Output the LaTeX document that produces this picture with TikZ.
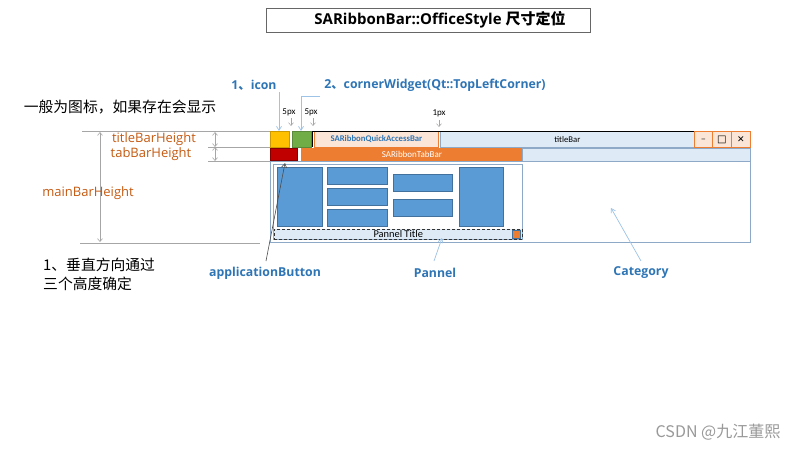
\documentclass[tikz,border=0pt]{standalone}
\usepackage{fontspec}
\setmainfont{Open Sans}
\newfontfamily\cjk{Noto Sans CJK SC}
\newfontfamily\calfont{Carlito}
\newfontfamily\dejavu{DejaVu Sans}
\usetikzlibrary{arrows.meta}
\definecolor{lblue}{HTML}{2E75B6}
\definecolor{lorange}{HTML}{C55A11}
\definecolor{cyellow}{HTML}{FFC000}
\definecolor{cgreen}{HTML}{70AD47}
\definecolor{cred}{HTML}{C00000}
\definecolor{corange}{HTML}{ED7D31}
\definecolor{cpeach}{HTML}{FBE5D6}
\definecolor{cpale}{HTML}{DEEBF7}
\definecolor{cblue}{HTML}{5B9BD5}
\definecolor{cblueb}{HTML}{41719C}
\definecolor{frame}{HTML}{8EA9C8}
\definecolor{dimgray}{HTML}{A6A6A6}
\definecolor{arrowblue}{HTML}{9DC3E6}
\begin{document}
\begin{tikzpicture}[x=1pt,y=-1pt,
  box/.style={draw, inner sep=0pt, anchor=north west, line width=0.8pt},
  wbox/.style={box, fill=cblue, draw=cblueb},
  bluelbl/.style={font=\bfseries\fontsize{12.3}{14}\selectfont, text=lblue, inner sep=1pt},
  orlbl/.style={font=\fontsize{13}{15}\selectfont, text=lorange, inner sep=1pt},
  cjktext/.style={font=\cjk\fontsize{14.8}{17}\selectfont, inner sep=1pt},
  small/.style={font=\calfont\fontsize{9}{10}\selectfont, inner sep=0pt},
  barb/.style={-{Straight Barb[length=4pt,width=5pt]}},
  dimline/.style={draw=dimgray, line width=0.6pt},
  dimarrow/.style={draw=dimgray, line width=0.6pt, {Straight Barb[length=3pt,width=5pt]}-{Straight Barb[length=3pt,width=5pt]}},
  pointer/.style={draw=arrowblue, line width=0.7pt, barb}
]
\useasboundingbox (0,0) rectangle (800,450);
\fill[white] (0,0) rectangle (800,450);

% title
\node[draw=gray!80!black, line width=1.2pt, minimum width=324pt, minimum height=24pt, anchor=north west, inner sep=0pt] (titlebox) at (266,8) {};
\node[font=\bfseries\fontsize{15}{17}\selectfont, inner sep=0pt] (titletext) at (440,20) {SARibbonBar::OfficeStyle {\cjk\bfseries 尺寸定位}};

% top labels
\node[bluelbl] (iconlbl) at (254,85) {1{\cjk 、}icon};
\node[bluelbl] (cornerlbl) at (435,85) {2{\cjk 、}cornerWidget(Qt::TopLeftCorner)};
\node[cjktext] (note1) at (120,107) {一般为图标，如果存在会显示};

\node[small] (px5a) at (289,112) {5px};
\node[small] (px5b) at (311,112) {5px};
\node[small] (px1) at (439,113) {1px};
\coordinate (px5aend) at (291,126);
\coordinate (px5bend) at (313,126);
\coordinate (px1end) at (439,127);
\draw[dimgray, line width=0.5pt, -{Straight Barb[length=3pt,width=5pt]}] (291,118) -- (px5aend);
\draw[dimgray, line width=0.5pt, -{Straight Barb[length=3pt,width=5pt]}] (313,118) -- (px5bend);
\draw[dimgray, line width=0.5pt, -{Straight Barb[length=3pt,width=5pt]}] (439,120) -- (px1end);

% ribbon title row
\node[box, fill=cyellow, draw=cyellow!80!black, minimum width=19pt, minimum height=16pt] (iconbox) at (270,131) {};
\node[box, fill=cgreen, draw=cgreen!80!black, minimum width=19pt, minimum height=16pt] (cornerbox) at (292,131) {};
\node[box, fill=cpeach, draw=corange, minimum width=124pt, minimum height=16pt, font=\calfont\bfseries\fontsize{8.7}{9}\selectfont, text=lblue] (qab) at (314,131) {SARibbonQuickAccessBar};
\node[box, fill=cpale, draw=frame, minimum width=254pt, minimum height=16pt, font=\calfont\fontsize{8.7}{9}\selectfont] (titlebar) at (440,131) {titleBar};
\draw[black, line width=0.8pt] (312,131) -- (694,131);
\draw[black, line width=0.8pt] (312,131) -- (312,147);
\node[box, fill=cpeach, draw=corange, minimum width=18pt, minimum height=16pt, font=\fontsize{8}{8}\selectfont] (minbtn) at (694,131) {\_};
\node[box, fill=cpeach, draw=corange, minimum width=19pt, minimum height=16pt, font=\dejavu\fontsize{10}{10}\selectfont] (maxbtn) at (712,131) {□};
\node[box, fill=cpeach, draw=corange, minimum width=19pt, minimum height=16pt, font=\dejavu\fontsize{9}{9}\selectfont] (closebtn) at (731,131) {✕};

% tab row
\node[box, fill=cred, draw=cred!70!black, minimum width=27pt, minimum height=12pt] (appbtn) at (270,148) {};
\node[box, fill=corange, draw=corange, minimum width=221pt, minimum height=13pt, font=\calfont\fontsize{9}{9}\selectfont, text=white] (tabbar) at (301,148) {SARibbonTabBar};
\node[box, fill=cpale, draw=frame, minimum width=228pt, minimum height=13pt] (tabrest) at (522,148) {};

% main area
\node[box, draw=frame, line width=1.2pt, minimum width=480pt, minimum height=81pt] (category) at (270,161) {};
\node[box, draw=frame, line width=1.2pt, minimum width=249pt, minimum height=75pt] (pannel) at (273,164) {};
\node[box, fill=cpale, draw=black!80, densely dashed, line width=0.5pt, minimum width=248pt, minimum height=10pt, font=\calfont\fontsize{10.4}{11}\selectfont] (ptitle) at (274,229) {Pannel Title};
\node[box, fill=corange, draw=cblueb, minimum width=8pt, minimum height=8pt] (pbtn) at (512,230) {};

\node[wbox, minimum width=45pt, minimum height=59pt] (w1) at (277,167) {};
\node[wbox, minimum width=60pt, minimum height=17pt] (w2) at (327,167) {};
\node[wbox, minimum width=60pt, minimum height=17pt] (w3) at (327,188) {};
\node[wbox, minimum width=60pt, minimum height=17pt] (w4) at (327,209) {};
\node[wbox, minimum width=59pt, minimum height=17pt] (w5) at (393,174) {};
\node[wbox, minimum width=59pt, minimum height=17pt] (w6) at (393,199) {};
\node[wbox, minimum width=44pt, minimum height=59pt] (w7) at (459,167) {};

% left dimension lines
\draw[dimline] (82,131) -- (iconbox.north west);
\draw[dimline] (208,147) -- (270,147);
\draw[dimline] (208,161) -- (270,161);
\draw[dimline] (80,243) -- (260,243);
\coordinate (dtop) at (100,132);
\coordinate (dbot) at (100,242);
\draw[dimarrow] (dtop) -- (dbot);
\coordinate (d1a) at (215,132);
\coordinate (d1b) at (215,147);
\coordinate (d2b) at (215,161);
\draw[dimarrow] (d1a) -- (d1b);
\draw[dimarrow] (d1b) -- (d2b);

\node[orlbl] (tbh) at (154,139) {titleBarHeight};
\node[orlbl] (tabh) at (151,154) {tabBarHeight};
\node[orlbl] (mbh) at (88,193) {mainBarHeight};

\node[cjktext, anchor=west] (note2) at (42,265) {1、垂直方向通过};
\node[cjktext, anchor=west] (note3) at (42,284) {三个高度确定};

% bottom labels
\node[bluelbl] (applbl) at (265,273) {applicationButton};
\node[bluelbl] (panlbl) at (435,273) {Pannel};
\node[bluelbl] (catlbl) at (641,273) {Category};

% pointers
\coordinate (iconstart) at (279,92);
\coordinate (cornerstart) at (320,96);
\coordinate (cornerbend) at (301,96);
\draw[pointer] (iconstart) -- (iconbox.north -| iconstart);
\draw[pointer] (cornerstart) -- (cornerbend) -- (cornerbox.north -| cornerbend);
\coordinate (appstart) at (266,261);
\coordinate (append) at (285,163);
\draw[draw=black!70, line width=0.6pt, barb] (appstart) -- (append);
\coordinate (panstart) at (434,261);
\coordinate (panend) at (442,238);
\draw[pointer] (panstart) -- (panend);
\coordinate (catstart) at (641,261);
\coordinate (catend) at (611,208);
\draw[pointer] (catstart) -- (catend);

% watermark
\node[font=\cjk\fontsize{16}{18}\selectfont, text=gray!80, inner sep=0pt] (wm) at (718,432) {CSDN @九江董熙};
\end{tikzpicture}
\end{document}
